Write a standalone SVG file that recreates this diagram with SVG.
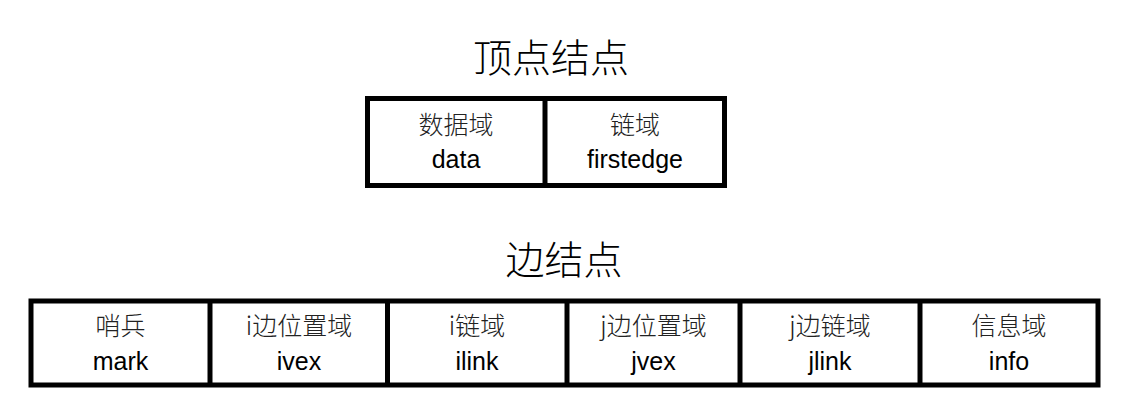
<svg xmlns="http://www.w3.org/2000/svg" width="1137" height="410" viewBox="0 0 1137 410">
<style>
.title{font-family:"Noto Sans CJK SC",sans-serif;font-size:39px;fill:#000;text-anchor:middle;font-weight:300}
.cn{font-family:"Noto Sans CJK SC",sans-serif;font-size:25px;fill:#222;text-anchor:middle;font-weight:300}
.en{font-family:"Liberation Sans",Arial,sans-serif;font-size:25px;fill:#000;text-anchor:middle}
.box{fill:#fff;stroke:#000;stroke-width:5}
.div{stroke:#000;stroke-width:5}
</style>
<rect width="1137" height="410" fill="#fff"/>
<text class="title" x="551" y="72">顶点结点</text>
<text class="title" x="564" y="274">边结点</text>
<g id="vertex-node">
<rect class="box" x="367.5" y="98.5" width="357" height="87"/>
<line class="div" x1="545" y1="98.5" x2="545" y2="185.5"/>
<g id="v-data"><text class="cn" x="456" y="134">数据域</text><text class="en" x="456" y="168">data</text></g>
<g id="v-firstedge"><text class="cn" x="635" y="134">链域</text><text class="en" x="635" y="168">firstedge</text></g>
</g>
<g id="edge-node">
<rect class="box" x="31" y="301" width="1067" height="84"/>
<g id="connectors">
<line class="div" x1="210" y1="301" x2="210" y2="385"/>
<line class="div" x1="387.5" y1="301" x2="387.5" y2="385"/>
<line class="div" x1="567" y1="301" x2="567" y2="385"/>
<line class="div" x1="740" y1="301" x2="740" y2="385"/>
<line class="div" x1="920" y1="301" x2="920" y2="385"/>
</g>
<g id="e-mark"><text class="cn" x="120.5" y="335">哨兵</text><text class="en" x="120.5" y="370">mark</text></g>
<g id="e-ivex"><text class="cn" x="299" y="335">i边位置域</text><text class="en" x="299" y="370">ivex</text></g>
<g id="e-ilink"><text class="cn" x="477" y="335">i链域</text><text class="en" x="477" y="370">ilink</text></g>
<g id="e-jvex"><text class="cn" x="653.5" y="335">j边位置域</text><text class="en" x="653.5" y="370">jvex</text></g>
<g id="e-jlink"><text class="cn" x="830" y="335">j边链域</text><text class="en" x="830" y="370">jlink</text></g>
<g id="e-info"><text class="cn" x="1009" y="335">信息域</text><text class="en" x="1009" y="370">info</text></g>
</g>
</svg>
